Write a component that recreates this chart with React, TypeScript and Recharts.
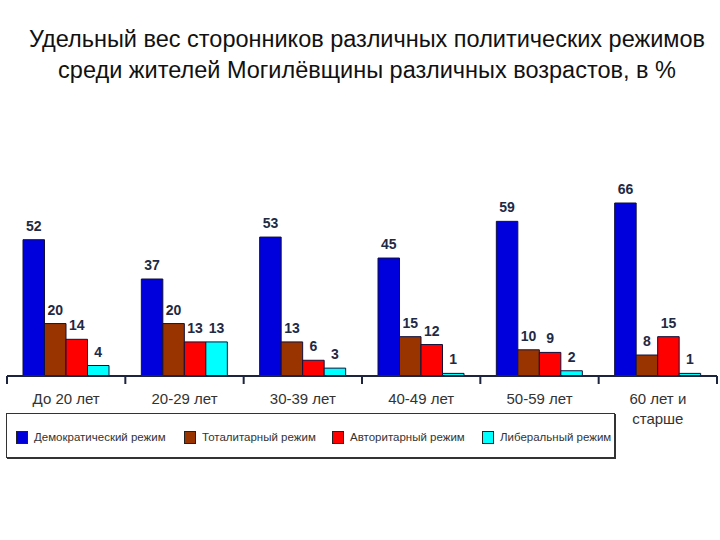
import React from 'react'
import {BarChart, Bar, XAxis, YAxis, LabelList, Text} from 'recharts'

const ages = ['До 20 лет', '20-29 лет', '30-39 лет', '40-49 лет', '50-59 лет', '60 лет и старше']
const democratic = [52, 37, 53, 45, 59, 66]
const totalitarian = [20, 20, 13, 15, 10, 8]
const authoritarian = [14, 13, 6, 12, 9, 15]
const liberal = [4, 13, 3, 1, 2, 1]

const seriesNames = ['Демократический режим', 'Тоталитарный режим', 'Авторитарный режим', 'Либеральный режим']
const seriesKeys = ['dem', 'tot', 'aut', 'lib']
const colors = ['#0000dd', '#993300', '#ff0000', '#00ffff']
const legendX = [9, 177, 325, 475]

const data = ages.map((age, i) => ({
  age,
  dem: democratic[i],
  tot: totalitarian[i],
  aut: authoritarian[i],
  lib: liberal[i],
}))

const font = '"Liberation Sans", Arial, sans-serif'
const BAND = 710 / 6

const AgeTick = (props: any) => {
  const {x, y, payload, index} = props
  const half = payload && payload.offset ? payload.offset : BAND / 2
  return (
    <g>
      <line x1={x - half} x2={x - half} y1={y} y2={y + 8} stroke="#1c2440" strokeWidth={2} />
      {index === ages.length - 1 && (
        <line x1={x + half} x2={x + half} y1={y} y2={y + 8} stroke="#1c2440" strokeWidth={2} />
      )}
      <Text x={x} y={y + 17} width={82} textAnchor="middle" verticalAnchor="start"
        fontSize={15} fontFamily={font} fill="#333" lineHeight={20}>
        {payload.value}
      </Text>
    </g>
  )
}

export default function App() {
  return (
    <div style={{position: 'absolute', left: 0, top: 0, width: 720, height: 540, background: '#fff', fontFamily: font}}>
      <div style={{position: 'absolute', left: 0, top: 24, width: 734, textAlign: 'center', fontSize: 23.5,
        lineHeight: '31px', color: '#111', whiteSpace: 'nowrap'}}>
        Удельный вес сторонников различных политических режимов<br />
        среди жителей Могилёвщины различных возрастов, в %
      </div>
      <div style={{position: 'absolute', left: 0, top: 0}}>
        <BarChart width={720} height={540} data={data} barGap={0} barSize={21.5}
          margin={{top: 203, right: 3, left: 7, bottom: 104}}>
          <XAxis dataKey="age" height={60} interval={0} tickLine={false} tickSize={0} tickMargin={0}
            axisLine={{stroke: '#1c2440', strokeWidth: 2}} tick={<AgeTick />} />
          <YAxis hide domain={[0, 66]} />
          {seriesKeys.map((k, i) => (
            <Bar key={k} dataKey={k} name={seriesNames[i]} fill={colors[i]} stroke="#10103a" strokeWidth={1}
              isAnimationActive={false}>
              <LabelList dataKey={k} position="top" offset={9} fill="#1f2a44" fontSize={14}
                fontWeight="bold" fontFamily={font} />
            </Bar>
          ))}
        </BarChart>
      </div>
      <div style={{position: 'absolute', left: 6, top: 413, width: 607, height: 43, border: '1px solid #333',
        boxShadow: '1px 1px 0 #333', fontSize: 11.5, color: '#333'}}>
        {seriesNames.map((n, i) => (
          <div key={n} style={{position: 'absolute', left: legendX[i], top: 16, display: 'flex',
            alignItems: 'center', whiteSpace: 'nowrap', lineHeight: '14px'}}>
            <span style={{display: 'inline-block', width: 10, height: 11, background: colors[i],
              border: '1px solid #222', marginRight: 6}} />
            {n}
          </div>
        ))}
      </div>
    </div>
  )
}
